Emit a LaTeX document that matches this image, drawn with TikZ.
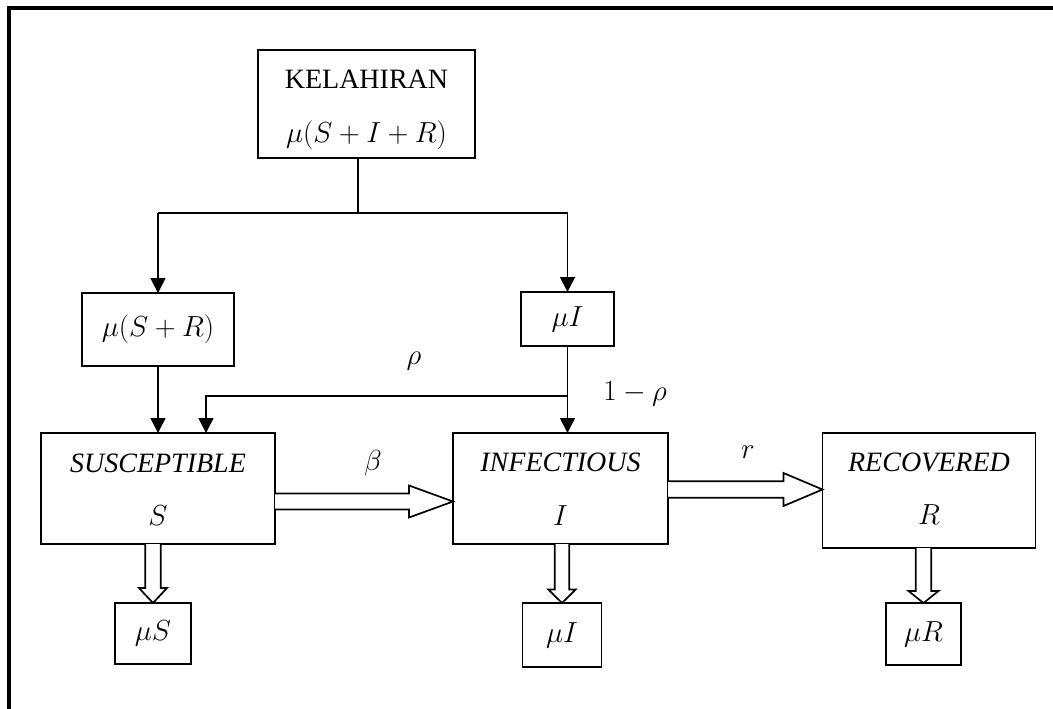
\RequirePackage{fix-cm}
\documentclass[tikz,border=0pt]{standalone}
\usepackage{fontspec}
\setmainfont{Liberation Serif}
\usetikzlibrary{calc,arrows.meta}
\newcommand\hollowarrow[5]{% start, end, shaft half, head half, head length
  \coordinate (ha@s) at #1; \coordinate (ha@e) at #2;
  \coordinate (ha@h) at ($(ha@e)!#5!(ha@s)$);
  \draw[hollow] ($(ha@s)!#3!90:(ha@e)$) -- ($(ha@h)!#3!-90:(ha@s)$) -- ($(ha@h)!#4!-90:(ha@s)$)
     -- (ha@e) -- ($(ha@h)!#4!90:(ha@s)$) -- ($(ha@h)!#3!90:(ha@s)$) -- ($(ha@s)!#3!-90:(ha@e)$);
}
\begin{document}
\begin{tikzpicture}[x=1pt,y=-1pt,
  bx/.style={draw, line width=1.7pt, inner sep=0pt, outer sep=0pt},
  ln/.style={line width=1.7pt},
  tip/.style={-{Triangle[length=15pt,width=15pt]}},
  hollow/.style={line width=1.7pt, fill=white, line join=miter},
  txt/.style={font=\fontsize{28}{30}\selectfont, inner sep=0pt},
  mth/.style={font=\fontsize{29}{31}\selectfont, inner sep=0pt}]
\useasboundingbox (0,0) rectangle (1053,709);
% frame
\draw[line width=4pt] (8.5,709) -- (8.5,8.5) -- (1053,8.5);
% top box
\node[bx, minimum width=217, minimum height=108] (kel) at (366.5,104) {};
\node[txt] (kelt) at (366.5,79) {KELAHIRAN};
\node[mth] (kelm) at (366.5,135) {$\mu(S+I+R)$};
% second row
\node[bx, minimum width=152, minimum height=73] (msr) at (158,329.5) {};
\node[mth] (msrt) at (msr) {$\mu(S+R)$};
\node[bx, minimum width=93, minimum height=54] (mi1) at (567.5,319) {};
\node[mth] (mi1t) at (mi1) {$\mu I$};
% main row
\node[bx, minimum width=234, minimum height=111] (sus) at (158,488.5) {};
\node[txt] (sust) at (158,463) {\itshape SUSCEPTIBLE};
\node[mth] (susm) at (158,516) {$S$};
\node[bx, minimum width=215, minimum height=111] (inf) at (560.5,488.5) {};
\node[txt] (inft) at (560.5,462) {\itshape INFECTIOUS};
\node[mth] (infm) at (560.5,516) {$I$};
\node[bx, minimum width=213, minimum height=115] (rec) at (929,490.5) {};
\node[txt] (rect) at (929,462) {\itshape RECOVERED};
\node[mth] (recm) at (929,515) {$R$};
% bottom row
\node[bx, minimum width=76, minimum height=61] (ms) at (153,633.5) {};
\node[mth] (mst) at (ms) {$\mu S$};
\node[bx, minimum width=79, minimum height=64] (mi2) at (562,635) {};
\node[mth] (mi2t) at (mi2) {$\mu I$};
\node[bx, minimum width=75, minimum height=62] (mr) at (923.5,634) {};
\node[mth] (mrt) at (mr) {$\mu R$};
% labels
\node[mth] (rho) at (414,361) {$\rho$};
\node[mth] (omr) at (635,394) {$1-\rho$};
\node[mth] (beta) at (373,463) {$\beta$};
\node[mth] (rr) at (748,452) {$r$};
% connectors
\coordinate (split) at (358,213);
\coordinate (lft) at (msr.north |- split);
\coordinate (rgt) at (mi1.north |- split);
\draw[ln] (kel.south -| split) -- (split);
\draw[ln] (lft) -- (rgt);
\draw[ln,tip] (lft) -- (msr.north);
\draw[ln,tip] (rgt) -- (mi1.north);
\draw[ln,tip] (msr.south) -- (msr.south |- sus.north);
\draw[ln,tip] (mi1.south) -- (mi1.south |- inf.north);
\coordinate (fbr) at (mi1.south |- 0,396);
\coordinate (fbl) at (206,396);
\draw[ln,tip] (fbr) -- (fbl) -- (fbl |- sus.north);
% hollow arrows
\hollowarrow{(sus.east |- 0,501.5)}{(inf.west |- 0,501.5)}{8pt}{16pt}{44pt}
\hollowarrow{(inf.east |- 0,489.5)}{(rec.west |- 0,489.5)}{8.3pt}{16.5pt}{39pt}
\hollowarrow{(sus.south -| ms.north)}{(ms.north)}{7.8pt}{14pt}{15pt}
\hollowarrow{(inf.south -| mi2.north)}{(mi2.north)}{7.2pt}{13.7pt}{13.5pt}
\hollowarrow{(rec.south -| mr.north)}{(mr.north)}{7.8pt}{15pt}{12pt}
\end{tikzpicture}
\end{document}
